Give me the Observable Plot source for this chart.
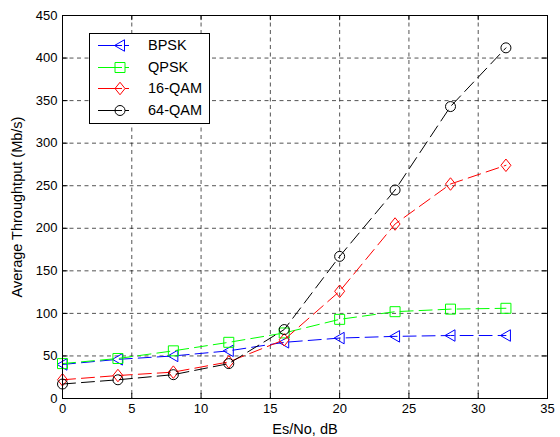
<!DOCTYPE html>
<html><head><meta charset="utf-8">
<script src="https://cdn.jsdelivr.net/npm/d3@7"></script>
<script src="https://cdn.jsdelivr.net/npm/@observablehq/plot@0.6"></script>
<style>
body{margin:0;background:#fff;}
#wrap{position:relative;width:560px;height:437px;font-family:"Liberation Sans",Arial,sans-serif;}
#legend{position:absolute;left:89px;top:33px;}
</style></head><body><div id="wrap"></div>
<script>
// Data
const snr = [0, 4, 8, 12, 16, 20, 24, 28, 32];
const bpsk = [40, 46, 50, 56, 66, 71, 73, 74, 74];
const qpsk = [41, 47, 56, 66, 77, 93, 102, 105, 106];
const qam16 = [22, 27, 31, 43, 69, 126, 205, 252, 274];
const qam64 = [17, 22, 28, 41, 81, 167, 245, 343, 412];
const seriesNames = ["BPSK", "QPSK", "16-QAM", "64-QAM"];
const seriesColors = ["#0000ff", "#00ff00", "#ff0000", "#000000"];
const xTicks = [0, 5, 10, 15, 20, 25, 30, 35];
const yTicks = [0, 50, 100, 150, 200, 250, 300, 350, 400, 450];

// custom hollow marker symbols
const triLeft = {draw(c, size) { const r = Math.sqrt(size / Math.PI); c.moveTo(-r * 1.1, 0); c.lineTo(r * 0.9, -r * 1.15); c.lineTo(r * 0.9, r * 1.15); c.closePath(); }};
const sq = {draw(c, size) { const r = Math.sqrt(size / Math.PI); c.moveTo(-r, -r); c.lineTo(r, -r); c.lineTo(r, r); c.lineTo(-r, r); c.closePath(); }};
const dia = {draw(c, size) { const r = Math.sqrt(size / Math.PI); c.moveTo(0, -r * 1.25); c.lineTo(r, 0); c.lineTo(0, r * 1.25); c.lineTo(-r, 0); c.closePath(); }};
const circ = {draw(c, size) { const r = Math.sqrt(size / Math.PI); c.moveTo(r, 0); c.arc(0, 0, r, 0, 2 * Math.PI); }};
const symbols = [triLeft, sq, dia, circ];

const allVals = [bpsk, qpsk, qam16, qam64];
const data = [];
allVals.forEach((vals, s) => vals.forEach((v, i) => data.push({x: snr[i], y: v, s})));

const font = "'Liberation Sans', Arial, sans-serif";
const marks = [
  Plot.gridX(xTicks, {stroke: "#000", strokeOpacity: 0.85, strokeDasharray: "4,3.5", strokeWidth: 0.8}),
  Plot.gridY(yTicks, {stroke: "#000", strokeOpacity: 0.85, strokeDasharray: "4,3.5", strokeWidth: 0.8}),
  // inward ticks
  Plot.ruleX(xTicks, {x: d => d, y1: 0, y2: 6, stroke: "#000"}),
  Plot.ruleX(xTicks, {x: d => d, y1: 450, y2: 444, stroke: "#000"}),
  Plot.ruleY(yTicks, {y: d => d, x1: 0, x2: 0.4, stroke: "#000"}),
  Plot.ruleY(yTicks, {y: d => d, x1: 35, x2: 34.6, stroke: "#000"}),
];
allVals.forEach((vals, s) => {
  const d = data.filter(p => p.s === s);
  marks.push(Plot.line(d, {x: "x", y: "y", stroke: seriesColors[s], strokeWidth: 1, strokeDasharray: "13,6"}));
  marks.push(Plot.dot(d, {x: "x", y: "y", stroke: seriesColors[s], fill: "none", symbol: symbols[s], r: 5, strokeWidth: 1}));
});
marks.push(Plot.frame({stroke: "#000", strokeWidth: 1}));
marks.push(Plot.axisX({ticks: xTicks, tickSize: 0, tickPadding: 5, fontSize: 13, label: null}));
marks.push(Plot.axisY({ticks: yTicks, tickSize: 0, tickPadding: 5, fontSize: 13, label: null}));
marks.push(Plot.axisX({ticks: [], tickSize: 0, fontSize: 14.5, label: "Es/No, dB", labelAnchor: "center", labelArrow: "none", labelOffset: 35}));
marks.push(Plot.axisY({ticks: [], tickSize: 0, fontSize: 14.5, label: "Average Throughtput (Mb/s)", labelAnchor: "center", labelArrow: "none", labelOffset: 51}));

const chart = Plot.plot({
  width: 560, height: 437,
  marginLeft: 62, marginRight: 13, marginTop: 15, marginBottom: 39,
  style: {fontFamily: font, fontSize: "13px", color: "#000", background: "#fff"},
  x: {domain: [0, 35]},
  y: {domain: [0, 450]},
  marks
});
const wrap = document.getElementById("wrap");
wrap.appendChild(chart);

// legend overlay
const lw = 120, lh = 90;
const lg = d3.select(wrap).append("svg").attr("id", "legend").attr("width", lw + 1).attr("height", lh + 1);
lg.append("rect").attr("x", 0.5).attr("y", 0.5).attr("width", lw).attr("height", lh).attr("fill", "#fff").attr("stroke", "#000");
const rowY = [12, 34, 55, 77];
seriesNames.forEach((name, i) => {
  const g = lg.append("g").attr("transform", `translate(0,${rowY[i]})`);
  g.append("line").attr("x1", 9).attr("x2", 40).attr("y1", 0.5).attr("y2", 0.5).attr("stroke", seriesColors[i]).attr("stroke-dasharray", "24,3,20");
  g.append("path").attr("d", d3.symbol(symbols[i], 25 * Math.PI)()).attr("transform", "translate(31,0.5)").attr("fill", "none").attr("stroke", seriesColors[i]);
  g.append("text").attr("x", 59).attr("y", 0).attr("dy", "0.35em").attr("font-size", 14.5).attr("font-family", font).text(name);
});
</script></body></html>
